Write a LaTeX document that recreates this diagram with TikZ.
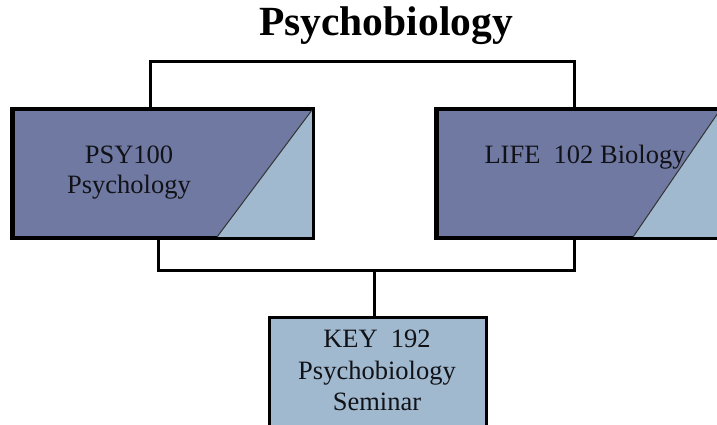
\documentclass[tikz,border=0pt]{standalone}
\usepackage{fontspec}
\setmainfont{Liberation Serif}
\definecolor{darkbox}{RGB}{112,121,161}
\definecolor{lightbox}{RGB}{161,185,206}
\begin{document}
\begin{tikzpicture}[x=1pt,y=-1pt,
  box/.style={draw=black, line width=3pt, fill=darkbox, inner sep=0pt},
  keybox/.style={draw=black, line width=3pt, fill=lightbox, inner sep=0pt},
  conn/.style={draw=black, line width=3pt},
  label/.style={anchor=base, font=\fontsize{26.5}{30}\selectfont, text=black!85!darkbox},
  title/.style={anchor=base, font=\fontsize{41.5}{44}\bfseries\selectfont}]
\useasboundingbox (0,0) rectangle (717,425);
\clip (0,0) rectangle (717,425);
\node[title] (T) at (386,36) {Psychobiology};
% boxes
\node[box, minimum width=299pt, minimum height=127pt] (L) at (162.5,173.5) {};
\node[box, minimum width=299pt, minimum height=127pt] (R) at (586.5,173.5) {};
\node[keybox, minimum width=217pt, minimum height=116pt] (K) at (377.5,375) {};
% triangles
\fill[lightbox] (217,237) -- (312,110) -- (312,237) -- cycle;
\draw[black!80, line width=1pt] (217,237) -- (312,110);
\fill[lightbox] (633,237) -- (720,110) -- (740,110) -- (740,237) -- cycle;
\draw[black!80, line width=1pt] (633,237) -- (720,110);
\draw[line width=3pt] (L.north west) rectangle (L.south east);
\draw[line width=3pt] (R.north west) rectangle (R.south east);
% texts
\node[label] (l1) at (129,163) {PSY100};
\node[label] (l2) at (129,193) {Psychology};
\node[label] (r1) at (585,163) {LIFE\ \ 102 Biology};
\node[label] (k1) at (377,347) {KEY\ \ 192};
\node[label] (k2) at (377,379) {Psychobiology};
\node[label] (k3) at (377,410) {Seminar};
% connection points
\coordinate (Lt) at ([xshift=-12.5pt]L.north);
\coordinate (Rt) at ([xshift=-12.5pt]R.north);
\coordinate (Lb) at ([xshift=-4.5pt]L.south);
\coordinate (Rb) at ([xshift=-12.5pt]R.south);
\coordinate (Kt) at ([xshift=-3.5pt]K.north);
\coordinate (top) at (0,62);
\coordinate (bot) at (0,270);
% connectors
\draw[conn, line cap=rect] (Lt) |- (top -| Rt) -- (Rt);
\draw[conn, line cap=rect] (Lb) |- (bot -| Rb) -- (Rb);
\draw[conn] (Kt) -- (Kt |- bot);
\end{tikzpicture}
\end{document}
